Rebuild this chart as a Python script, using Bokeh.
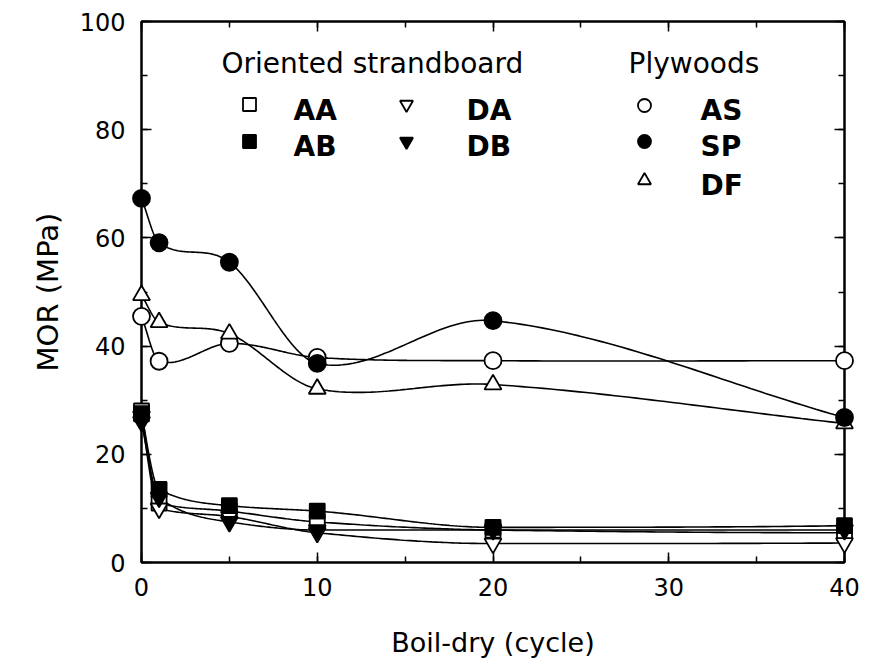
import numpy as np
from bokeh.plotting import figure
from bokeh.models import Range1d, LinearAxis, SingleIntervalTicker, Label, CustomJSTickFormatter
from bokeh.embed import file_html
from bokeh.resources import INLINE

# ---- data ----
cycles = [0, 1, 5, 10, 20, 40]
# Oriented strandboard
osb_aa = [28.0, 11.0, 9.5, 7.5, 6.0, 5.5]
osb_ab = [27.5, 13.5, 10.5, 9.5, 6.5, 6.8]
osb_da = [27.0, 10.0, 8.5, 5.5, 3.5, 3.6]
osb_db = [26.0, 12.0, 7.5, 6.0, 6.0, 6.0]
# Plywoods
ply_as = [45.5, 37.2, 40.5, 37.9, 37.3, 37.3]
ply_sp = [67.3, 59.1, 55.5, 36.8, 44.7, 26.8]
ply_df = [49.4, 44.4, 42.3, 32.1, 32.9, 25.7]

x_ticks_major = 10
y_ticks_major = 20

FONT = "DejaVu Sans"


def hermite(x, y, m, n=50):
    h = np.diff(x)
    xs, ys = [], []
    for k in range(len(x) - 1):
        t = np.linspace(0, 1, n)
        h00 = 2 * t**3 - 3 * t**2 + 1
        h10 = t**3 - 2 * t**2 + t
        h01 = -2 * t**3 + 3 * t**2
        h11 = t**3 - t**2
        yy = h00 * y[k] + h10 * h[k] * m[k] + h01 * y[k + 1] + h11 * h[k] * m[k + 1]
        xs.extend((x[k] + t * h[k]).tolist())
        ys.extend(yy.tolist())
    return xs, ys


def pchip(x, y):
    """Shape-preserving cubic curve through the points (for drawing)."""
    x = np.asarray(x, float)
    y = np.asarray(y, float)
    h = np.diff(x)
    d = np.diff(y) / h
    m = np.zeros_like(y)
    for k in range(1, len(x) - 1):
        if d[k - 1] * d[k] > 0:
            w1 = 2 * h[k] + h[k - 1]
            w2 = h[k] + 2 * h[k - 1]
            m[k] = (w1 + w2) / (w1 / d[k - 1] + w2 / d[k])

    def end(h0, h1, d0, d1):
        mm = ((2 * h0 + h1) * d0 - h0 * d1) / (h0 + h1)
        if np.sign(mm) != np.sign(d0):
            mm = 0.0
        elif np.sign(d0) != np.sign(d1) and abs(mm) > abs(3 * d0):
            mm = 3 * d0
        return mm

    m[0] = end(h[0], h[1], d[0], d[1])
    m[-1] = end(h[-1], h[-2], d[-1], d[-2])
    return hermite(x, y, m)


def cardinal(x, y):
    """Catmull-Rom style cubic curve through the points (for drawing)."""
    x = np.asarray(x, float)
    y = np.asarray(y, float)
    m = np.zeros_like(y)
    m[0] = (y[1] - y[0]) / (x[1] - x[0])
    m[-1] = (y[-1] - y[-2]) / (x[-1] - x[-2])
    for k in range(1, len(x) - 1):
        m[k] = (y[k + 1] - y[k - 1]) / (x[k + 1] - x[k - 1])
    return hermite(x, y, m)


LEFT, TOP = 141, 21
FW, FH = 703, 541

p = figure(frame_width=FW, frame_height=FH,
           min_border_left=LEFT, min_border_right=20,
           min_border_top=TOP, min_border_bottom=96,
           x_range=Range1d(0, 40), y_range=Range1d(0, 100),
           output_backend="svg", toolbar_location=None,
           x_axis_label="Boil-dry (cycle)", y_axis_label="MOR (MPa)")

p.background_fill_color = "white"
p.border_fill_color = "white"
p.outline_line_color = "black"
p.outline_line_width = 2
p.xgrid.visible = False
p.ygrid.visible = False

p.xaxis.ticker = SingleIntervalTicker(interval=x_ticks_major, num_minor_ticks=2)
p.yaxis.ticker = SingleIntervalTicker(interval=y_ticks_major, num_minor_ticks=2)

for ax in (p.xaxis, p.yaxis):
    ax.axis_line_width = 2
    ax.major_tick_in = 10
    ax.major_tick_out = 0
    ax.minor_tick_in = 6
    ax.minor_tick_out = 0
    ax.major_tick_line_width = 1.5
    ax.minor_tick_line_width = 1.5
    ax.major_label_text_font = FONT
    ax.major_label_text_font_size = "24px"
    ax.major_label_text_color = "black"
    ax.axis_label_text_font = FONT
    ax.axis_label_text_font_style = "normal"
    ax.axis_label_text_color = "black"

p.xaxis.major_label_standoff = 15
p.yaxis.major_label_standoff = 16
p.xaxis.axis_label_text_font_size = "27px"
p.yaxis.axis_label_text_font_size = "29px"
p.xaxis.axis_label_standoff = 28
p.yaxis.axis_label_standoff = 12

# mirrored tick marks on top and right
blank = CustomJSTickFormatter(code="return ''")
top = LinearAxis(ticker=SingleIntervalTicker(interval=x_ticks_major, num_minor_ticks=2),
                 formatter=blank)
right = LinearAxis(ticker=SingleIntervalTicker(interval=y_ticks_major, num_minor_ticks=2),
                   formatter=blank)
for ax in (top, right):
    ax.axis_line_width = 2
    ax.major_tick_in = 10
    ax.major_tick_out = 0
    ax.minor_tick_in = 6
    ax.minor_tick_out = 0
    ax.major_tick_line_width = 1.5
    ax.minor_tick_line_width = 1.5
    ax.major_label_standoff = 0
    ax.major_label_text_font_size = "1px"
p.add_layout(top, "above")
p.add_layout(right, "right")

# curves
for ys in (osb_aa, osb_ab, osb_da, osb_db):
    cx, cy = pchip(cycles, ys)
    p.line(cx, cy, line_color="black", line_width=1.6)
for ys in (ply_as, ply_sp, ply_df):
    cx, cy = cardinal(cycles, ys)
    p.line(cx, cy, line_color="black", line_width=1.6)

MS = 17
series = [
    (osb_aa, "square", "white", MS - 2),
    (osb_da, "inverted_triangle", "white", MS),
    (osb_db, "inverted_triangle", "black", MS),
    (osb_ab, "square", "black", MS - 2),
    (ply_as, "circle", "white", MS),
    (ply_df, "triangle", "white", MS),
    (ply_sp, "circle", "black", MS),
]
for ys, mk, fill, sz in series:
    r = p.scatter(cycles, ys, marker=mk, size=sz, fill_color=fill,
                  line_color="black", line_width=1.8)
    r.level = "overlay"

# ---- legend (drawn by hand, two groups); positions in picture pixels ----
def px_x(px):
    return (px - LEFT) / (FW / 40)


def px_y(py):
    return ((TOP + FH) - py) / (FH / 100)


TXT_SHIFT = 10


def add_text(txt, px, py, size="27px", style="normal"):
    p.add_layout(Label(x=px_x(px), y=px_y(py - TXT_SHIFT), text=txt, text_font=FONT,
                       text_font_size=size, text_font_style=style,
                       text_color="black", text_baseline="alphabetic",
                       text_align="left"))


add_text("Oriented strandboard", 221, 73, size="28px")
add_text("Plywoods", 628, 73, size="28px")

leg_rows = [
    ("AA", "square", "white", 249, 104, 293, 120),
    ("AB", "square", "black", 249, 141, 293, 156),
    ("DA", "inverted_triangle", "white", 406, 104, 466, 120),
    ("DB", "inverted_triangle", "black", 406, 141, 466, 156),
    ("AS", "circle", "white", 644, 105, 700, 120),
    ("SP", "circle", "black", 644, 141, 700, 156),
    ("DF", "triangle", "white", 644, 180, 700, 195),
]
for name, mk, fill, mx, my, tx, ty in leg_rows:
    r = p.scatter([px_x(mx)], [px_y(my)], marker=mk, size=13,
                  fill_color=fill, line_color="black", line_width=1.8)
    r.level = "overlay"
    add_text(name, tx, ty, size="28px", style="bold")

html = file_html(p, INLINE)
with open("out.html", "w") as f:
    f.write(html)
